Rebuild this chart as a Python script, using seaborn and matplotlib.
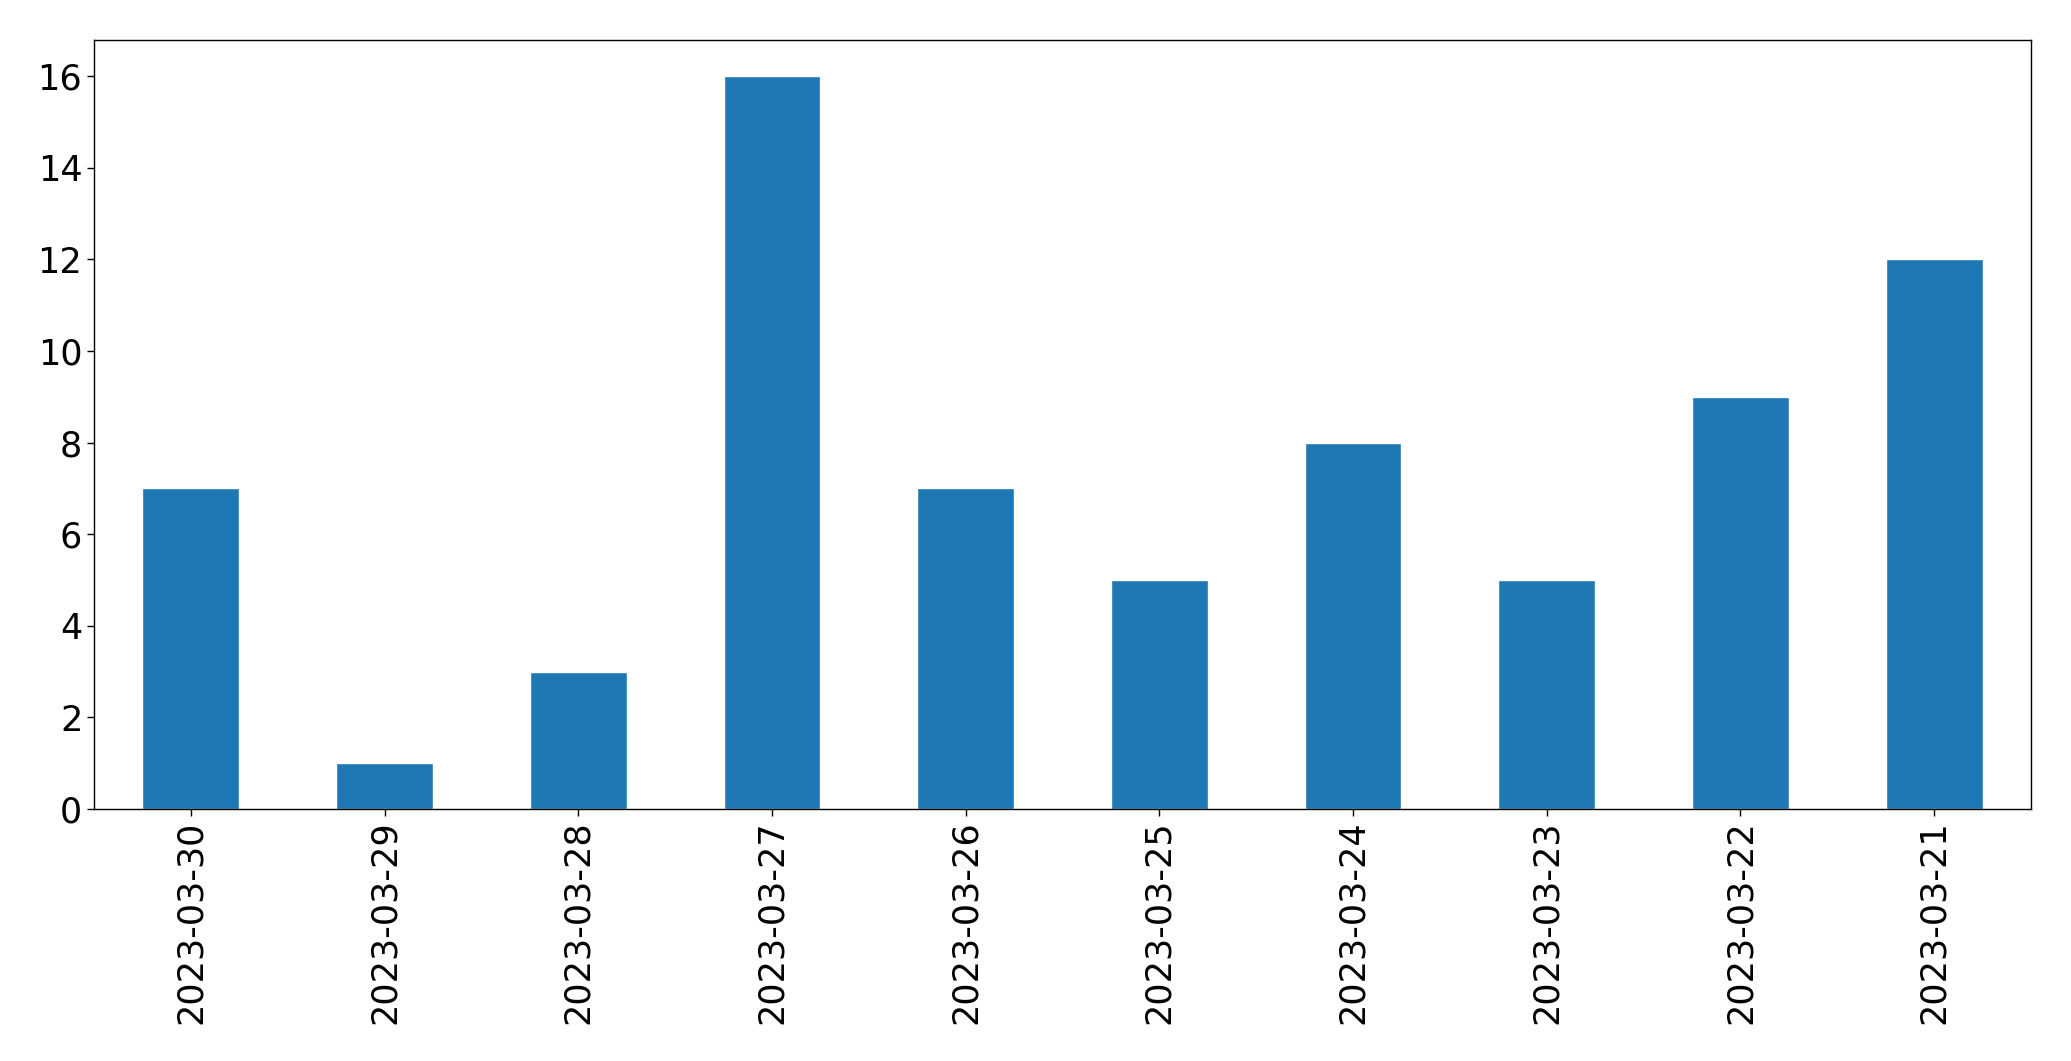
import seaborn as sns
import matplotlib.pyplot as plt
import pandas as pd

dates = ['2023-03-30', '2023-03-29', '2023-03-28', '2023-03-27', '2023-03-26',
         '2023-03-25', '2023-03-24', '2023-03-23', '2023-03-22', '2023-03-21']
counts = [7, 1, 3, 16, 7, 5, 8, 5, 9, 12]

df = pd.DataFrame({'date': dates, 'count': counts})

sns.set_style('ticks')
plt.rcParams['font.family'] = ['DejaVu Sans']

fig = plt.figure(figsize=(20.71, 10.61), dpi=100)
ax = fig.add_axes([94 / 2071, 1 - 809 / 1061, (2031 - 94) / 2071, (809 - 39.5) / 1061])

sns.barplot(data=df, x='date', y='count', order=dates, color='#1f77b4',
            saturation=1, width=0.5, ax=ax)

ax.set_xlim(-0.5, len(dates) - 0.5)
ax.set_ylim(0, 16.8)
ax.set_xlabel('')
ax.set_ylabel('')
ax.tick_params(axis='x', labelrotation=90, labelsize=25.2, colors='black',
               length=4.9, width=1)
ax.tick_params(axis='y', labelsize=25.2, colors='black', length=4.9, width=1)
for s in ax.spines.values():
    s.set_visible(True)
    s.set_linewidth(1.0)
    s.set_color('black')

fig.savefig('out.png', dpi=100)
